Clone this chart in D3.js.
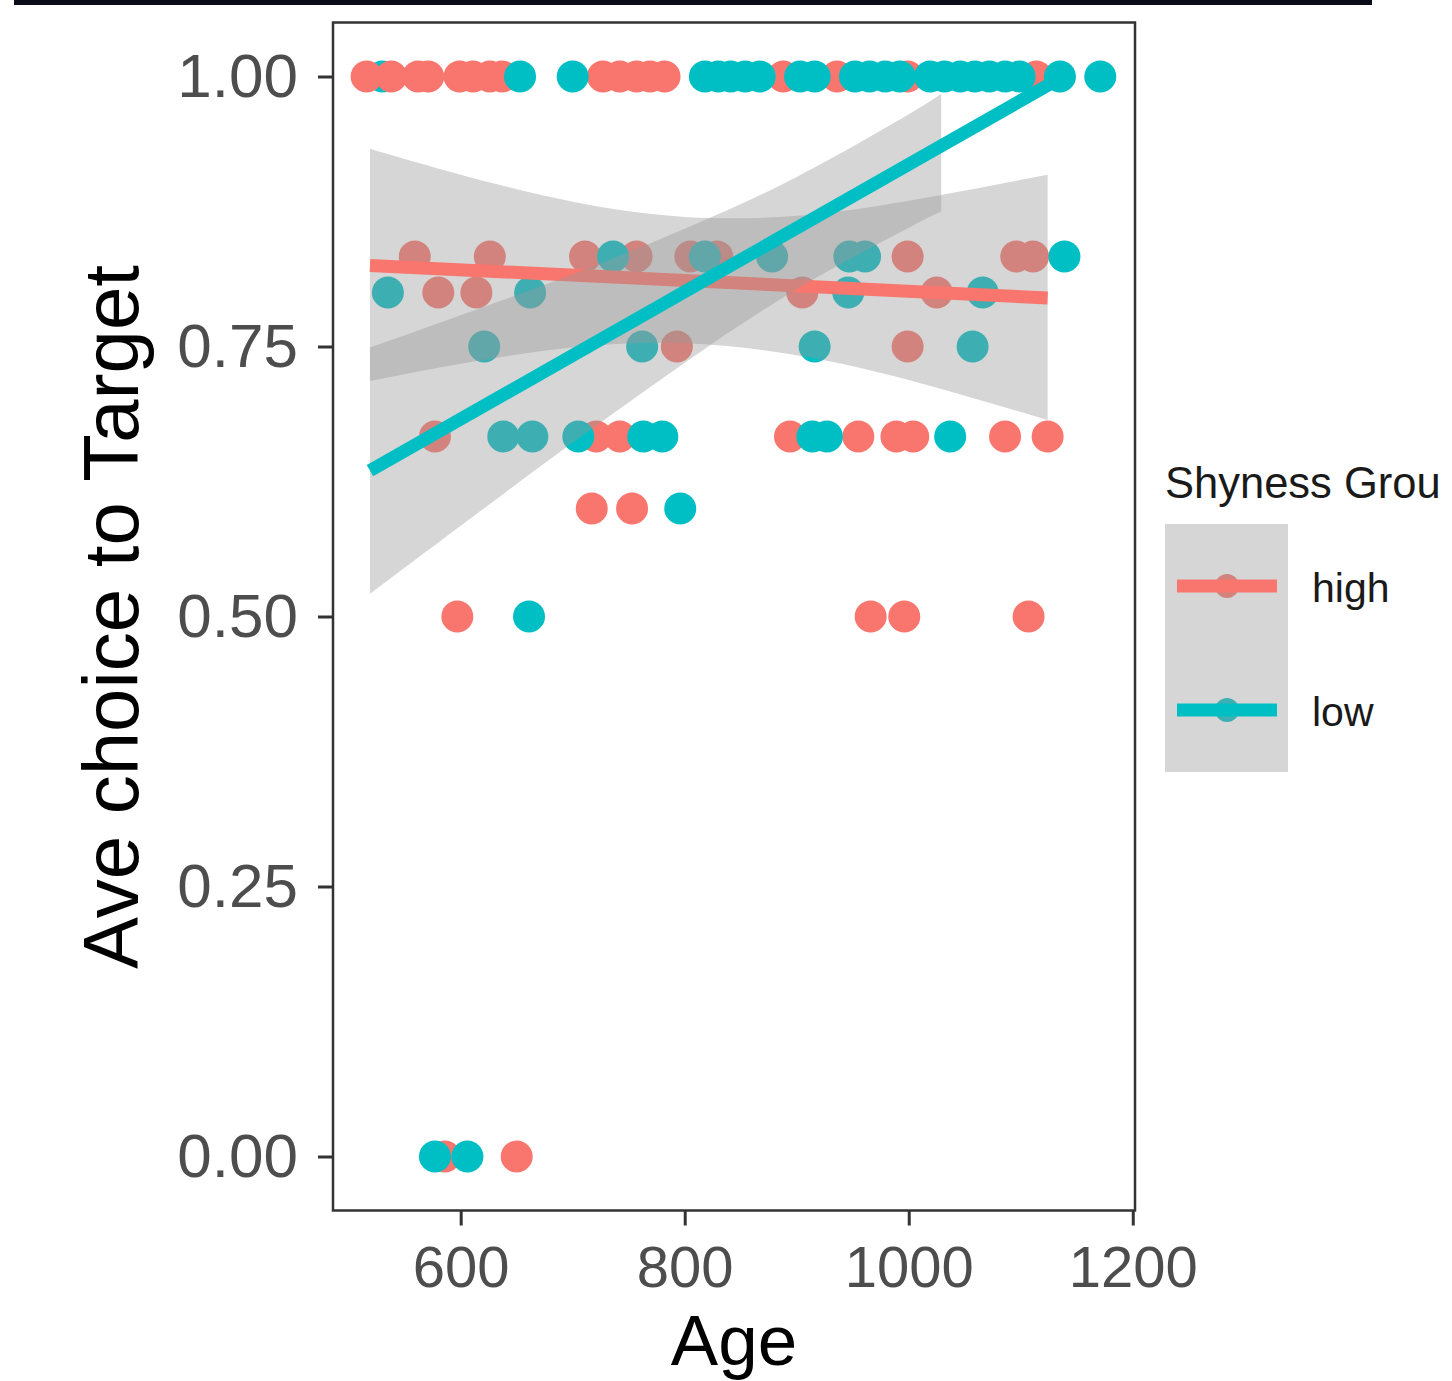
<!DOCTYPE html>
<html><head><meta charset="utf-8">
<script src="https://cdn.jsdelivr.net/npm/d3@7"></script>
<style>body{margin:0;background:#fff;} svg{display:block;font-family:"Liberation Sans",Arial,Helvetica,sans-serif;}</style>
</head><body><svg id="c" width="1452" height="1381"></svg>
<script>
// ---- data ----
const groups = ["high", "low"];
const groupColors = ["#F8766D", "#00BFC4"];
const legendTitle = "Shyness Grou";
const xTitle = "Age";
const yTitle = "Ave choice to Target";
const xTicks = [600, 800, 1000, 1200];
const yTicks = [0, 0.25, 0.5, 0.75, 1];
const yTickLabels = ["0.00", "0.25", "0.50", "0.75", "1.00"];

const highAge = [516,538,562,571,599,611,626,637,727,742,757,769,782,888,936,999,1114,
                 559,626,711,757,805,829,999,1096,1111,
                 580,614,905,1025,
                 793,999,
                 577,721,742,894,955,989,1004,1086,1124,
                 717,753,
                 597,966,996,1107,
                 586,650];
const highValue = [1,1,1,1,1,1,1,1,1,1,1,1,1,1,1,1,1,
                   0.8333,0.8333,0.8333,0.8333,0.8333,0.8333,0.8333,0.8333,0.8333,
                   0.8,0.8,0.8,0.8,
                   0.75,0.75,
                   0.6667,0.6667,0.6667,0.6667,0.6667,0.6667,0.6667,0.6667,0.6667,
                   0.6,0.6,
                   0.5,0.5,0.5,0.5,
                   0,0];
const lowAge = [530,653,700,818,830,841,854,867,903,916,952,965,979,992,1019,1032,1046,1059,1072,1086,1099,1135,1171,
                736,818,878,947,961,1139,
                535,662,946,1066,
                621,762,916,1057,
                638,664,705,763,780,914,927,1037,
                796,
                661,
                577,606];
const lowValue = [1,1,1,1,1,1,1,1,1,1,1,1,1,1,1,1,1,1,1,1,1,1,1,
                  0.8333,0.8333,0.8333,0.8333,0.8333,0.8333,
                  0.8,0.8,0.8,0.8,
                  0.75,0.75,0.75,0.75,
                  0.6667,0.6667,0.6667,0.6667,0.6667,0.6667,0.6667,0.6667,
                  0.6,
                  0.5,
                  0,0];
// low-group points that sit underneath the high group (drawing order)
const lowDrawnFirst = [0];

// fitted lines
const highFitAge = [519, 1124];
const highFitValue = [0.825, 0.795];
const lowFitAge = [519, 1126];
const lowFitValue = [0.635, 0.993];

// confidence bands
const highBandAge = [519, 600, 700, 800, 900, 1000, 1124];
const highBandUpper = [0.933, 0.909, 0.884, 0.870, 0.871, 0.885, 0.909];
const highBandLower = [0.718, 0.734, 0.749, 0.753, 0.742, 0.719, 0.682];
const lowBandAge = [519, 600, 700, 800, 900, 1000, 1029];
const lowBandUpper = [0.749, 0.779, 0.817, 0.859, 0.907, 0.965, 0.984];
const lowBandLower = [0.521, 0.584, 0.661, 0.735, 0.803, 0.860, 0.875];

// ---- drawing ----
const svg = d3.select("#c");
const P = {l: 333, r: 1135, t: 22.5, b: 1210.5};
const x = d3.scaleLinear().domain([486, 1202]).range([P.l, P.r]);
const y = d3.scaleLinear().domain([-0.05, 1.05]).range([P.b, P.t]);
const color = d3.scaleOrdinal().domain(groups).range(groupColors);

// top black bar
svg.append("rect").attr("x", 14).attr("y", 0).attr("width", 1358).attr("height", 5).attr("fill", "#0a0d18");

const plot = svg.append("g");
function drawPts(g, ages, vals, idx) {
  plot.append("g").selectAll("circle").data(idx).join("circle")
    .attr("cx", i => x(ages[i])).attr("cy", i => y(vals[i])).attr("r", 16)
    .attr("fill", color(g));
}
drawPts("low", lowAge, lowValue, lowDrawnFirst);
drawPts("high", highAge, highValue, d3.range(highAge.length));
drawPts("low", lowAge, lowValue, d3.range(lowAge.length).filter(i => !lowDrawnFirst.includes(i)));

const bands = [
  {g: "high", age: highBandAge, up: highBandUpper, lo: highBandLower, fa: highFitAge, fv: highFitValue},
  {g: "low", age: lowBandAge, up: lowBandUpper, lo: lowBandLower, fa: lowFitAge, fv: lowFitValue}
];
const area = d3.area().x(d => x(d[0])).y0(d => y(d[1])).y1(d => y(d[2])).curve(d3.curveNatural);
const line = d3.line().x(d => x(d[0])).y(d => y(d[1]));
bands.forEach(b => {
  plot.append("path").datum(b.age.map((a, i) => [a, b.lo[i], b.up[i]]))
    .attr("d", area).attr("fill", "#999999").attr("fill-opacity", 0.4);
  plot.append("path").datum(b.fa.map((a, i) => [a, b.fv[i]]))
    .attr("d", line).attr("stroke", color(b.g)).attr("stroke-width", 13).attr("fill", "none");
});

// panel border
svg.append("rect").attr("x", P.l).attr("y", P.t).attr("width", P.r - P.l).attr("height", P.b - P.t)
  .attr("fill", "none").attr("stroke", "#333333").attr("stroke-width", 2.5);

// axes
const yAxis = svg.append("g").attr("transform", `translate(${P.l},0)`)
  .call(d3.axisLeft(y).tickValues(yTicks).tickFormat((d, i) => yTickLabels[i]).tickSize(15).tickPadding(20));
const xAxis = svg.append("g").attr("transform", `translate(0,${P.b})`)
  .call(d3.axisBottom(x).tickValues(xTicks).tickFormat(d3.format("d")).tickSize(15).tickPadding(20));
[yAxis, xAxis].forEach(a => {
  a.select(".domain").remove();
  a.selectAll(".tick line").attr("stroke", "#333333").attr("stroke-width", 3);
  a.selectAll(".tick text").attr("fill", "#4d4d4d")
    .style("font-family", '"Liberation Sans", Arial, sans-serif');
});
yAxis.selectAll(".tick text").style("font-size", "62px");
xAxis.selectAll(".tick text").style("font-size", "58px");

// axis titles
svg.append("text").attr("x", (P.l + P.r) / 2).attr("y", 1365).attr("text-anchor", "middle")
  .style("font-size", "71px").attr("fill", "#000").text(xTitle);
svg.append("text").attr("transform", `translate(138,617) rotate(-90)`).attr("text-anchor", "middle")
  .style("font-size", "78px").attr("fill", "#000").text(yTitle);

// legend
const lg = svg.append("g");
lg.append("text").attr("x", 1165).attr("y", 498).style("font-size", "43.5px").attr("fill", "#1a1a1a").text(legendTitle);
groups.forEach((g, i) => {
  const cy = 586 + i * 124;
  lg.append("circle").attr("cx", 1227).attr("cy", cy).attr("r", 12).attr("fill", color(g));
  lg.append("rect").attr("x", 1165).attr("y", 524 + i * 124).attr("width", 123).attr("height", 124)
    .attr("fill", "#999999").attr("fill-opacity", 0.4);
  lg.append("line").attr("x1", 1177).attr("x2", 1277).attr("y1", cy).attr("y2", cy)
    .attr("stroke", color(g)).attr("stroke-width", 13);
  lg.append("text").attr("x", 1312).attr("y", cy + 16).style("font-size", "41px").attr("fill", "#1a1a1a").text(g);
});
</script></body></html>
